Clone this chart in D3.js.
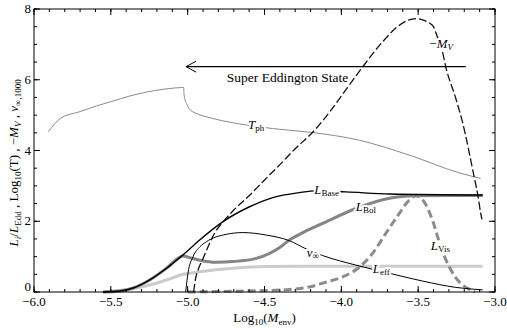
<!DOCTYPE html>
<html>
<head>
<meta charset="utf-8">
<script src="https://cdn.jsdelivr.net/npm/d3@7"></script>
<style>
  body { margin: 0; background: #fff; }
  .halo { paint-order: stroke; stroke: #fff; stroke-width: 4px; stroke-linejoin: round; }
</style>
</head>
<body>
<svg width="507" height="328" font-family="'Liberation Serif', 'Times New Roman', serif"></svg>
<script>
// series: [log10 Menv, value]
var tph = [[-5.907,4.53],[-5.827,4.91],[-5.7,5.1],[-5.593,5.26],[-5.5,5.38],[-5.377,5.54],[-5.27,5.65],
           [-5.162,5.73],[-5.09,5.765],[-5.026,5.78],[-5.024,5.6],[-5.018,5.45],[-5.005,5.3],
           [-4.99,5.18],[-4.95,5.06],[-4.9,4.98],[-4.85,4.92],[-4.727,4.80],[-4.60,4.71],
           [-4.448,4.62],[-4.19,4.51],[-3.883,4.29],[-3.558,3.87],[-3.234,3.37],[-3.093,3.21]];
var mv = [[-4.961,0],[-4.95,0.35],[-4.93,0.65],[-4.9,0.95],[-4.86,1.35],[-4.82,1.7],[-4.77,1.98],
          [-4.706,2.29],[-4.6,2.72],[-4.506,3.14],[-4.4,3.6],[-4.3,4.05],[-4.188,4.51],[-4.067,5.14],
          [-3.96,5.78],[-3.862,6.36],[-3.732,7.07],[-3.623,7.54],[-3.515,7.73],[-3.407,7.54],
          [-3.375,7.21],[-3.342,6.79],[-3.32,6.36],[-3.255,5.47],[-3.212,4.81],[-3.136,3.26],
          [-3.11,2.7],[-3.093,2.22],[-3.085,2.05]];
var lbase = [[-5.55,0],[-5.44,0.03],[-5.35,0.12],[-5.247,0.34],[-5.138,0.67],[-5.03,1.05],
             [-4.922,1.47],[-4.77,1.99],[-4.597,2.41],[-4.446,2.67],[-4.273,2.81],[-4.164,2.86],
             [-3.97,2.83],[-3.688,2.77],[-3.08,2.74]];
var lbol = [[-5.55,0],[-5.44,0.03],[-5.35,0.12],[-5.247,0.34],[-5.138,0.67],[-5.03,1.02],
            [-4.98,0.96],[-4.922,0.90],[-4.814,0.84],[-4.706,0.86],[-4.554,0.95],[-4.403,1.25],
            [-4.338,1.47],[-4.25,1.68],[-4.121,1.94],[-3.905,2.36],[-3.688,2.65],[-3.515,2.72],
            [-3.3,2.73],[-3.08,2.73]];
var vinf = [[-5.013,0],[-5.005,0.3],[-4.998,0.53],[-4.965,1.0],[-4.92,1.28],[-4.879,1.42],
            [-4.749,1.63],[-4.641,1.68],[-4.489,1.61],[-4.338,1.45],[-4.23,1.22],[-4.121,1.03],
            [-3.905,0.76],[-3.688,0.53],[-3.472,0.31],[-3.255,0.13],[-3.08,0.06]];
var leff = [[-5.55,0],[-5.45,0.04],[-5.35,0.1],[-5.247,0.2],[-5.138,0.34],[-5.03,0.50],
            [-4.922,0.57],[-4.706,0.67],[-4.489,0.72],[-4.273,0.73],[-3.08,0.73]];
var lvis = [[-5.0,0],[-4.7,0.02],[-4.5,0.04],[-4.338,0.07],[-4.2,0.15],[-4.121,0.25],[-3.99,0.43],
            [-3.883,0.70],[-3.797,1.09],[-3.71,1.66],[-3.623,2.22],[-3.558,2.60],[-3.515,2.72],
            [-3.461,2.55],[-3.407,2.03],[-3.353,1.28],[-3.299,0.72],[-3.234,0.29],[-3.158,0.06],[-3.13,0]];

var xTicks = [-6.0, -5.5, -5.0, -4.5, -4.0, -3.5, -3.0];
var yTicks = [0, 2, 4, 6, 8];
var eddington = [-5.01, -3.19, 6.37];   // arrow from, to, level

var svg = d3.select("svg"),
    margin = {top: 9, right: 12, bottom: 36, left: 34},
    width = +svg.attr("width") - margin.left - margin.right,
    height = +svg.attr("height") - margin.top - margin.bottom,
    g = svg.append("g").attr("transform", "translate(" + margin.left + "," + margin.top + ")");

var x = d3.scaleLinear().domain([-6, -3]).range([0, width]);
var y = d3.scaleLinear().domain([0, 8]).range([height, 0]);

var line = d3.line()
    .x(function(d) { return x(d[0]); })
    .y(function(d) { return y(d[1]); })
    .curve(d3.curveMonotoneX);

// curves, back to front
g.append("path").attr("d", line(tph)).attr("fill", "none").attr("stroke", "#8a8a8a").attr("stroke-width", 1);
g.append("path").attr("d", line(leff)).attr("fill", "none").attr("stroke", "#cbcbcb").attr("stroke-width", 3);
g.append("path").attr("d", line(lvis)).attr("fill", "none").attr("stroke", "#8c8c8c").attr("stroke-width", 3)
  .attr("stroke-dasharray", "8,4");
g.append("path").attr("d", line(lbol)).attr("fill", "none").attr("stroke", "#858585").attr("stroke-width", 3);
g.append("path").attr("d", line(lbase)).attr("fill", "none").attr("stroke", "#000").attr("stroke-width", 1.4);
g.append("path").attr("d", line(vinf)).attr("fill", "none").attr("stroke", "#000").attr("stroke-width", 1);
g.append("path").attr("d", line(mv)).attr("fill", "none").attr("stroke", "#111").attr("stroke-width", 1.3)
  .attr("stroke-dasharray", "8,3");

// super eddington arrow
var ay = y(eddington[2]);
g.append("line").attr("x1", x(eddington[0])).attr("x2", x(eddington[1]))
  .attr("y1", ay).attr("y2", ay).attr("stroke", "#000").attr("stroke-width", 1.2);
g.append("path")
  .attr("d", "M" + (x(eddington[0]) + 10) + "," + (ay - 5.5) + "L" + x(eddington[0]) + "," + ay +
             "L" + (x(eddington[0]) + 10) + "," + (ay + 5.5))
  .attr("fill", "none").attr("stroke", "#000").attr("stroke-width", 1);
g.append("text").attr("x", x(-4.35)).attr("y", ay + 15).attr("text-anchor", "middle")
  .attr("font-size", 13.5).text("Super Eddington State");

// curve labels: [x, y, main, sub, subItalic, prefix]
var labels = [
  [-4.555, 4.68, "T", "ph", false, ""],
  [-3.35, 6.98, "M", "V", true, "\u2212"],
  [-4.095, 2.85, "L", "Base", false, ""],
  [-3.84, 2.38, "L", "Bol", false, ""],
  [-4.185, 1.08, "v", "\u221e", false, ""],
  [-3.355, 1.27, "L", "Vis", false, ""],
  [-3.74, 0.62, "L", "eff", false, ""]
];
labels.forEach(function(l) {
  var t = g.append("text").attr("class", "halo").attr("x", x(l[0])).attr("y", y(l[1]))
    .attr("text-anchor", "middle").attr("dominant-baseline", "middle").attr("font-size", 13);
  if (l[5]) t.append("tspan").text(l[5]);
  t.append("tspan").attr("font-style", "italic").text(l[2]);
  t.append("tspan").attr("font-size", 9).attr("dy", 3)
    .attr("font-style", l[4] ? "italic" : "normal").text(l[3]);
});

// frame and ticks
g.append("rect").attr("width", width).attr("height", height)
  .attr("fill", "none").attr("stroke", "#000").attr("stroke-width", 1);

var xMinor = d3.range(-6, -2.99, 0.1), yMinor = d3.range(0, 8.01, 0.5);
function ticks(vals, len, axis) {
  vals.forEach(function(v) {
    if (axis === "x") {
      g.append("line").attr("x1", x(v)).attr("x2", x(v)).attr("y1", height).attr("y2", height - len).attr("stroke", "#000");
      g.append("line").attr("x1", x(v)).attr("x2", x(v)).attr("y1", 0).attr("y2", len).attr("stroke", "#000");
    } else {
      g.append("line").attr("y1", y(v)).attr("y2", y(v)).attr("x1", 0).attr("x2", len).attr("stroke", "#000");
      g.append("line").attr("y1", y(v)).attr("y2", y(v)).attr("x1", width).attr("x2", width - len).attr("stroke", "#000");
    }
  });
}
ticks(xMinor, 3, "x");
ticks(xTicks, 6, "x");
ticks(yMinor, 3, "y");
ticks(yTicks, 6, "y");

g.selectAll(".xl").data(xTicks).enter().append("text")
  .attr("x", function(d) { return x(d); }).attr("y", height + 14)
  .attr("text-anchor", "middle").attr("font-size", 13)
  .text(function(d) { return d3.format(".1f")(d).replace("-", "\u2212"); });
g.selectAll(".yl").data(yTicks).enter().append("text")
  .attr("x", -3).attr("y", function(d) { return d === 0 ? y(d) - 1 : y(d) + 4; })
  .attr("text-anchor", "end").attr("font-size", 13).text(function(d) { return d; });

// axis titles
var xt = g.append("text").attr("x", width / 2).attr("y", height + 30)
  .attr("text-anchor", "middle").attr("font-size", 13);
xt.append("tspan").text("Log");
xt.append("tspan").attr("font-size", 9).attr("dy", 3).text("10");
xt.append("tspan").attr("dy", -3).text("(");
xt.append("tspan").attr("font-style", "italic").text("M");
xt.append("tspan").attr("font-size", 9).attr("dy", 3).text("env");
xt.append("tspan").attr("dy", -3).text(")");

var yt = g.append("text").attr("transform", "translate(-16," + (y(3.65)) + ") rotate(-90)")
  .attr("text-anchor", "middle").attr("font-size", 13);
yt.append("tspan").attr("font-style", "italic").text("L");
yt.append("tspan").attr("font-size", 9).attr("dy", 3).attr("font-style", "italic").text("i");
yt.append("tspan").attr("dy", -3).text("/");
yt.append("tspan").attr("font-style", "italic").text("L");
yt.append("tspan").attr("font-size", 9).attr("dy", 3).text("Edd");
yt.append("tspan").attr("dy", -3).text(" , Log");
yt.append("tspan").attr("font-size", 9).attr("dy", 3).text("10");
yt.append("tspan").attr("dy", -3).text("(T) , \u2212");
yt.append("tspan").attr("font-style", "italic").text("M");
yt.append("tspan").attr("font-size", 9).attr("dy", 3).attr("font-style", "italic").text("V");
yt.append("tspan").attr("dy", -3).text(" , ");
yt.append("tspan").attr("font-style", "italic").text("v");
yt.append("tspan").attr("font-size", 9).attr("dy", 3).text("\u221e,1000");
</script>
</body>
</html>
